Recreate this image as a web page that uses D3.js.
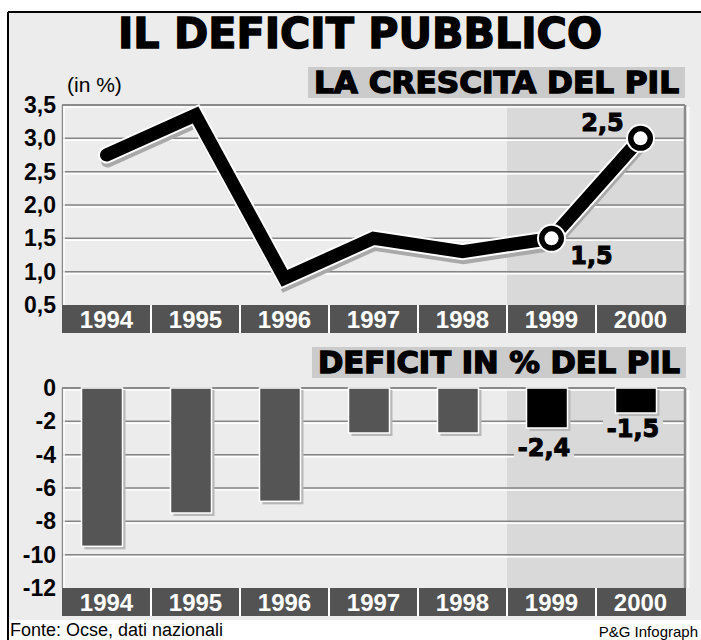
<!DOCTYPE html>
<html>
<head>
<meta charset="utf-8">
<script src="https://cdn.jsdelivr.net/npm/d3@7"></script>
<style>
  body { margin: 0; background: #fff; }
  svg { display: block; font-family: 'Liberation Sans', Arial, sans-serif; }
  .heavy { font-family: 'DejaVu Sans Condensed', 'DejaVu Sans', sans-serif; font-weight: bold; stroke: #000; stroke-width: 1.3px; }
  .tick text { font-weight: bold; font-size: 23px; fill: #000; }
  .val { font-family: 'DejaVu Sans', sans-serif; font-weight: bold; font-size: 24px; stroke: #000; stroke-width: 1px; }
</style>
</head>
<body>
<div id="chart"></div>
<script>
// data
const years = ['1994', '1995', '1996', '1997', '1998', '1999', '2000'];
const pil = [2.75, 3.35, 0.9, 1.5, 1.3, 1.5, 3.0];
const deficit = [-9.5, -7.5, -6.8, -2.7, -2.7, -2.4, -1.5];
const pilTicks = [0.5, 1, 1.5, 2, 2.5, 3, 3.5];
const deficitTicks = [0, -2, -4, -6, -8, -10, -12];
const highlightYears = ['1999', '2000'];
const pilLabels = [
  { year: '1999', text: '1,5' },
  { year: '2000', text: '2,5' },
];
const deficitLabels = [
  { year: '1999', text: '-2,4' },
  { year: '2000', text: '-1,5' },
];

const width = 701;
const height = 640;

const svg = d3.select('#chart').append('svg').attr('width', width).attr('height', height);

// frame
svg.append('rect').attr('x', 9).attr('y', 13).attr('width', width - 9).attr('height', 607).attr('fill', '#ececec');
svg.append('line').attr('x1', 8).attr('x2', 8).attr('y1', 12).attr('y2', height).attr('stroke', '#000').attr('stroke-width', 2);
svg.append('line').attr('x1', 8).attr('x2', width).attr('y1', 12).attr('y2', 12).attr('stroke', '#000').attr('stroke-width', 2);

svg.append('text').attr('class', 'heavy').attr('x', 118).attr('y', 48)
  .attr('font-size', 43).attr('textLength', 484).attr('lengthAdjust', 'spacingAndGlyphs')
  .text('IL DEFICIT PUBBLICO');

const x = d3.scaleBand().domain(years).range([62, 685]).paddingInner(0);
const cx = (d) => x(d) + x.bandwidth() / 2;

// panel helper: background, shading, gridlines, year bar
function panel(y, ticks, fmt, title, titleBox) {
  const [y0, y1] = y.range(); // bottom, top
  const g = svg.append('g');
  g.append('rect').attr('x', titleBox.x).attr('y', titleBox.y).attr('width', titleBox.w).attr('height', titleBox.h).attr('fill', '#cbcbcb');
  g.append('text').attr('class', 'heavy').attr('x', titleBox.x + 6).attr('y', titleBox.y + titleBox.h - 5)
    .attr('font-size', 30).attr('textLength', titleBox.w - 12).attr('lengthAdjust', 'spacingAndGlyphs')
    .text(title);

  const hx = x(highlightYears[0]);
  g.append('rect').attr('x', hx).attr('y', y1).attr('width', x.range()[1] - hx).attr('height', y0 - y1).attr('fill', '#d9d9d9');

  // gridlines: grey line with white line beneath
  const grid = ticks.filter((t) => y(t) < y0 - 2);
  g.selectAll('.gw').data(grid).join('line')
    .attr('x1', 62).attr('x2', 685).attr('y1', (d) => y(d) + 2).attr('y2', (d) => y(d) + 2)
    .attr('stroke', '#fff').attr('stroke-width', 1.5);
  g.selectAll('.gg').data(grid).join('line')
    .attr('x1', 62).attr('x2', 685).attr('y1', (d) => y(d)).attr('y2', (d) => y(d))
    .attr('stroke', '#858585').attr('stroke-width', 1.5);

  // left edge and right border
  g.append('line').attr('x1', 62.5).attr('x2', 62.5).attr('y1', y1).attr('y2', y0).attr('stroke', '#8a8a8a').attr('stroke-width', 1.5);
  g.append('line').attr('x1', 64).attr('x2', 64).attr('y1', y1 + 1).attr('y2', y0).attr('stroke', '#fff').attr('stroke-width', 1.5);
  g.append('line').attr('x1', 688).attr('x2', 688).attr('y1', y1 + 2).attr('y2', y0).attr('stroke', '#fafafa').attr('stroke-width', 3);
  g.append('line').attr('x1', 685).attr('x2', 685).attr('y1', y1).attr('y2', y0).attr('stroke', '#8a8a8a').attr('stroke-width', 2.5);

  // y axis labels
  svg.append('g').attr('transform', 'translate(56,0)')
    .call(d3.axisLeft(y).tickValues(ticks).tickSize(0).tickPadding(0).tickFormat(fmt))
    .call((a) => a.select('.domain').remove())
    .call((a) => a.selectAll('text').attr('font-family', null));

  // year bar
  g.append('rect').attr('x', 62).attr('y', y0).attr('width', 624).attr('height', 28).attr('fill', '#535353');
  g.selectAll('.sep').data(years.slice(1)).join('line')
    .attr('x1', (d) => x(d)).attr('x2', (d) => x(d)).attr('y1', y0).attr('y2', y0 + 28)
    .attr('stroke', '#fff').attr('stroke-width', 2);
  g.selectAll('.yr').data(years).join('text')
    .attr('x', cx).attr('y', y0 + 23).attr('text-anchor', 'middle')
    .attr('fill', '#fff').attr('font-weight', 'bold').attr('font-size', 24).text((d) => d);
  return g;
}

// top: GDP growth
const yTop = d3.scaleLinear().domain([0.5, 3.5]).range([305, 105]);
const topPanel = panel(yTop, pilTicks, (d) => d3.format('.1f')(d).replace('.', ','),
  'LA CRESCITA DEL PIL', { x: 308, y: 67, w: 377, h: 31 });
topPanel.append('line').attr('x1', 62).attr('x2', 685).attr('y1', 105).attr('y2', 105).attr('stroke', '#8a8a8a').attr('stroke-width', 2);

svg.append('text').attr('x', 67).attr('y', 92).attr('font-size', 21).text('(in %)');

const pts = years.map((d, i) => [cx(d), yTop(pil[i])]);
const line = d3.line();
topPanel.append('path').attr('d', line(pts.map((p) => [p[0] + 1, p[1] + 6])))
  .attr('fill', 'none').attr('stroke', '#a9a9a9').attr('stroke-width', 13).attr('stroke-linecap', 'round');
topPanel.append('path').attr('d', line(pts)).attr('fill', 'none').attr('stroke', '#fff')
  .attr('stroke-width', 17).attr('stroke-linecap', 'round');
topPanel.append('path').attr('d', line(pts)).attr('fill', 'none').attr('stroke', '#000')
  .attr('stroke-width', 13).attr('stroke-linecap', 'round');

const marked = pilLabels.map((l) => ({ ...l, v: pil[years.indexOf(l.year)] }));
topPanel.selectAll('.c0').data(marked).join('circle').attr('cx', (d) => cx(d.year)).attr('cy', (d) => yTop(d.v)).attr('r', 14.5).attr('fill', '#fff');
topPanel.selectAll('.c1').data(marked).join('circle').attr('cx', (d) => cx(d.year)).attr('cy', (d) => yTop(d.v)).attr('r', 12.5).attr('fill', '#000');
topPanel.selectAll('.c2').data(marked).join('circle').attr('cx', (d) => cx(d.year)).attr('cy', (d) => yTop(d.v)).attr('r', 7).attr('fill', '#fff');
topPanel.selectAll('.pl').data(marked).join('text').attr('class', 'val')
  .attr('x', (d, i) => cx(d.year) + (i === 0 ? 40 : -38))
  .attr('y', (d, i) => yTop(d.v) + (i === 0 ? 26 : -7))
  .attr('text-anchor', 'middle').text((d) => d.text);

// bottom: deficit
const yBot = d3.scaleLinear().domain([-12, 0]).range([588, 388]);
const botPanel = panel(yBot, deficitTicks, (d) => String(d),
  'DEFICIT IN % DEL PIL', { x: 312, y: 347, w: 374, h: 31 });
botPanel.append('line').attr('x1', 62).attr('x2', 685).attr('y1', 388).attr('y2', 388).attr('stroke', '#8a8a8a').attr('stroke-width', 2);

const bw = 41;
const bx = (d) => cx(d) - 25;
botPanel.selectAll('.bs').data(years).join('rect')
  .attr('x', (d) => bx(d) + 3).attr('y', yBot(0) + 2).attr('width', bw)
  .attr('height', (d, i) => yBot(deficit[i]) - yBot(0) + 1).attr('fill', '#b8b8b8');
botPanel.selectAll('.b').data(years).join('rect')
  .attr('x', bx).attr('y', yBot(0)).attr('width', bw)
  .attr('height', (d, i) => yBot(deficit[i]) - yBot(0))
  .attr('fill', (d) => (highlightYears.includes(d) ? '#000' : '#555'))
  .attr('stroke', '#fff').attr('stroke-width', 1.5);

const dl = deficitLabels.map((l) => ({ ...l, v: deficit[years.indexOf(l.year)] }));
const dlg = botPanel.selectAll('.dl').data(dl).join('g')
  .attr('transform', (d, i) => `translate(${bx(d.year) + bw / 2 - 3},${yBot(d.v) + (i === 0 ? 28 : 24)})`);
dlg.append('rect').attr('x', -30).attr('y', -20).attr('width', 60).attr('height', 24).attr('fill', '#d9d9d9');
dlg.append('text').attr('class', 'val').attr('text-anchor', 'middle').text((d) => d.text);

// footer
svg.append('text').attr('x', 10).attr('y', 636).attr('font-size', 18).text('Fonte: Ocse, dati nazionali');
svg.append('text').attr('x', 698).attr('y', 637).attr('text-anchor', 'end').attr('font-size', 15).text('P&G Infograph');
</script>
</body>
</html>
